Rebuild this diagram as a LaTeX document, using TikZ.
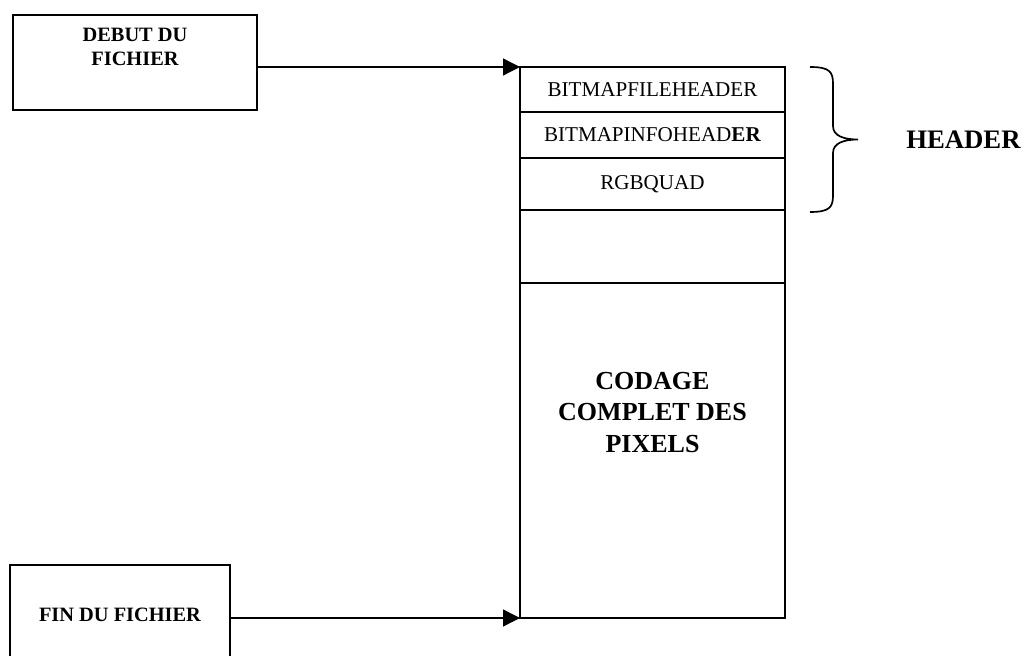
\documentclass[tikz,border=0pt]{standalone}
\usepackage{fontspec}
\setmainfont{Liberation Serif}
\usepackage{tikz}
\usetikzlibrary{arrows.meta, positioning}
\tikzset{
  basebox/.style={rectangle,draw=black,line width=0.9pt,align=center,inner sep=0pt,outer sep=0pt},
  filebox/.style={basebox,font=\fontsize{14.5}{17}\selectfont\bfseries},
  filetext/.style={align=center,inner sep=0pt,font=\fontsize{14.5}{17}\selectfont\bfseries},
  cellnode/.style={basebox,minimum width=6.625cm,font=\fontsize{15}{17}\selectfont},
  codetext/.style={align=center,inner sep=0pt,font=\fontsize{18.5}{22.5}\selectfont\bfseries},
  headtext/.style={inner sep=0pt,font=\fontsize{19}{22}\selectfont\bfseries},
  arr/.style={-{Triangle[length=0.42cm,width=0.42cm]},line width=0.9pt},
  bracebar/.style={line width=1.2pt}
}

\begin{document}
\begin{tikzpicture}[node distance=0pt]
  \useasboundingbox (0,0) rectangle (25.625,-16.4);

  %% Begin / end of file
  \node[filebox,minimum width=6.1cm,minimum height=2.375cm,
        label={[filetext,anchor=north,yshift=-0.33cm]north:{DEBUT DU\\FICHIER}}]
        (debut) at (3.375,-1.5625) {};
  \node[filebox,minimum width=5.5cm,minimum height=2.5cm] (fin) at (3.0,-15.375)
    {FIN DU FICHIER};

  %% BMP file layout
  \node[cellnode,minimum height=1.125cm,anchor=north west] (fhead) at (13.0,-1.675)
    {BITMAPFILEHEADER};
  \node[cellnode,minimum height=1.15cm,below=of fhead] (ihead)
    {BITMAPINFOHEAD\textbf{ER}};
  \node[cellnode,minimum height=1.3cm,below=of ihead] (rgbq) {RGBQUAD};
  \node[cellnode,minimum height=1.825cm,below=of rgbq] (blank) {};
  \node[cellnode,minimum height=8.375cm,below=of blank,
        label={[codetext,yshift=0.95cm]center:{CODAGE\\COMPLET DES\\PIXELS}}] (pixels) {};

  \draw[arr] (debut.east |- fhead.north west) -- (fhead.north west);
  \draw[arr] (fin.east |- pixels.south west) -- (pixels.south west);

  %% Header brace
  \coordinate[right=0.625cm of fhead.north east] (bracetop);
  \draw[bracebar] (bracetop)
      .. controls +(0.5,0) and +(0,0.3) .. ++(0.575,-0.425)
      -- ++(0,-1.05)
      .. controls +(0,-0.25) and +(-0.35,0) .. ++(0.625,-0.3375) coordinate (bracetip)
      .. controls +(-0.35,0) and +(0,0.25) .. ++(-0.625,-0.3375)
      -- ++(0,-1.05)
      .. controls +(0,-0.3) and +(0.5,0) .. ++(-0.575,-0.425);
  \node[headtext,right=1.2cm of bracetip] (header) {HEADER};
\end{tikzpicture}
\end{document}
